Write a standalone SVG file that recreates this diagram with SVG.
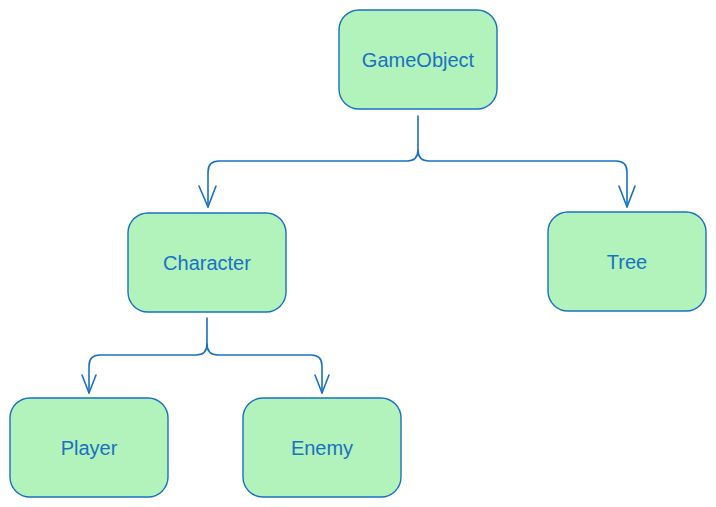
<svg xmlns="http://www.w3.org/2000/svg" width="716" height="507" viewBox="0 0 716 507">
<style>
.box{fill:#b2f2bb;stroke:#1971c2;stroke-width:1.4}
.lbl{font-family:"Liberation Sans",Arial,sans-serif;font-size:20px;fill:#1971c2;text-anchor:middle;dominant-baseline:central}
.ln{fill:none;stroke:#1971c2;stroke-width:1.6;stroke-linecap:round;stroke-linejoin:round}
</style>
<rect width="716" height="507" fill="#ffffff"/>
<g id="connectors">
<path class="ln" d="M418,116 V150 Q418,161 407,161 H219 Q208,161 208,172 V207"/>
<path class="ln" d="M199,186 L208,207 L216,186"/>
<path class="ln" d="M418,150 Q418,161 429,161 H616 Q627,161 627,172 V207"/>
<path class="ln" d="M619,186 L627,207 L635,186"/>
<path class="ln" d="M207,318 V344 Q207,355 196,355 H100 Q89,355 89,366 V393"/>
<path class="ln" d="M82,375 L89,393 L96,375"/>
<path class="ln" d="M207,344 Q207,355 218,355 H311 Q322,355 322,366 V393"/>
<path class="ln" d="M315,375 L322,393 L329,375"/>
</g>
<g id="GameObject"><rect class="box" x="339" y="10" width="158" height="99" rx="20"/><text class="lbl" x="418" y="59.5">GameObject</text></g>
<g id="Character"><rect class="box" x="128" y="213" width="158" height="99" rx="20"/><text class="lbl" x="207" y="262.5">Character</text></g>
<g id="Tree"><rect class="box" x="548" y="212" width="158" height="99" rx="20"/><text class="lbl" x="627" y="261.5">Tree</text></g>
<g id="Player"><rect class="box" x="10" y="398" width="158" height="99" rx="20"/><text class="lbl" x="89" y="447.5">Player</text></g>
<g id="Enemy"><rect class="box" x="243" y="398" width="158" height="99" rx="20"/><text class="lbl" x="322" y="447.5">Enemy</text></g>
</svg>
